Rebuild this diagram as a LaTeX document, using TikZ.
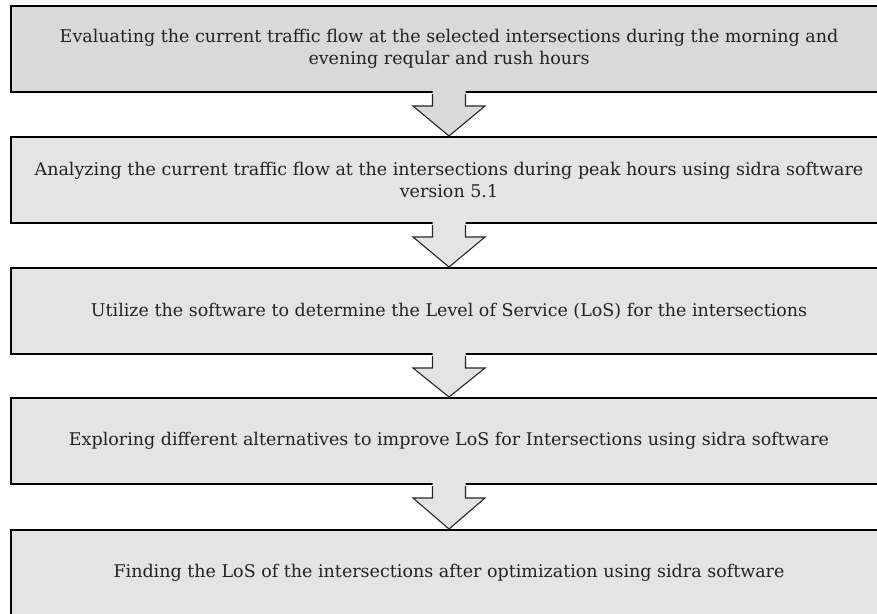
\documentclass[tikz,border=0pt]{standalone}
\usepackage{fontspec}
\setmainfont{DejaVu Serif}
\usetikzlibrary{calc}
\definecolor{boxdark}{HTML}{D9D9D9}
\definecolor{boxlight}{HTML}{E4E4E4}
\definecolor{txt}{HTML}{222222}
\tikzset{
  stagebox/.style={draw=black, line width=2pt, fill=boxlight, minimum width=876pt, minimum height=86pt,
    inner sep=0pt, align=center, text=txt, font=\fontsize{17.5pt}{22.5pt}\selectfont},
  arrowfill/.style={fill=#1, draw=none},
  arrowline/.style={draw=black!85, line width=1.1pt, line join=miter}
}
\newcommand{\flowarrow}[3]{%
  \fill[arrowfill=#3] ($(#1.south)+(-16.5,-2)$) -- ($(#1.south)+(-16.5,13)$) -- ($(#1.south)+(-36,13)$)
     -- (#2.north) -- ($(#1.south)+(36,13)$) -- ($(#1.south)+(16.5,13)$) -- ($(#1.south)+(16.5,-2)$) -- cycle;
  \draw[arrowline] ($(#1.south)+(-16.5,1)$) -- ($(#1.south)+(-16.5,13)$) -- ($(#1.south)+(-36,13)$)
     -- (#2.north) -- ($(#1.south)+(36,13)$) -- ($(#1.south)+(16.5,13)$) -- ($(#1.south)+(16.5,1)$);
}
\begin{document}
\begin{tikzpicture}[x=1pt,y=-1pt]
\clip (0,0) rectangle (877,613);
\fill[white] (0,0) rectangle (877,613);
\node[stagebox, fill=boxdark] (s1) at (449,49) {Evaluating the current traffic flow at the selected intersections during the morning and\\evening reqular and rush hours};
\node[stagebox] (s2) at (449,180) {Analyzing the current traffic flow at the intersections during peak hours using sidra software\\version 5.1};
\node[stagebox] (s3) at (449,311) {Utilize the software to determine the Level of Service (LoS) for the intersections};
\node[stagebox] (s4) at (449,441) {Exploring different alternatives to improve LoS for Intersections using sidra software};
\node[stagebox] (s5) at (449,573) {Finding the LoS of the intersections after optimization using sidra software};
\flowarrow{s1}{s2}{boxdark}
\flowarrow{s2}{s3}{boxlight}
\flowarrow{s3}{s4}{boxlight}
\flowarrow{s4}{s5}{boxlight}
\end{tikzpicture}
\end{document}
